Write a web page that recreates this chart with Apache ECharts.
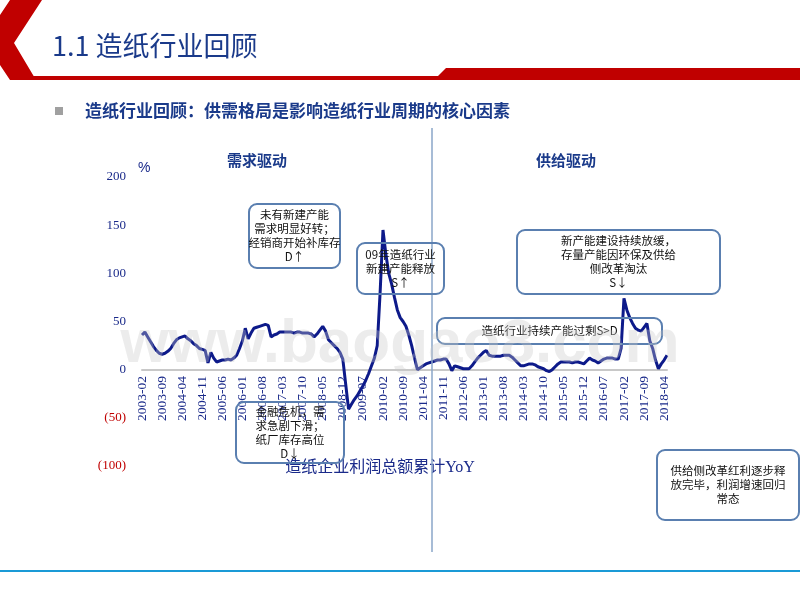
<!DOCTYPE html>
<html><head><meta charset="utf-8">
<script src="https://cdn.jsdelivr.net/npm/echarts@6/dist/echarts.min.js"></script>
<style>html,body{margin:0;padding:0;background:#fff}#c{width:800px;height:600px}</style>
</head><body><div id="c"></div>
<script>
const startYear = 2003, startMonth = 2, monthCount = 184;
const yoyValues = [
36,39,34,29,24,20,17,16,17,19,22,27,
31,33,34,35,32,30,27,25,22,21,20,7,
18,12,8,9,10,10,11,10,12,15,22,30,
43,32,38,43,44,45,46,47,46,34,36,37,
39,39,39,39,39,38,39,39,38,38,38,37,
34,37,41,45,40,31,28,25,22,18,11,-15,
-41,-36,-31,-27,-22,-17,-11,-4,4,12,25,80,
145,120,100,89,75,62,54,50,45,36,25,12,
0,2,4,6,7,8,9,10,10,11,11,6,
-1,4,3,2,1,1,1,4,8,12,15,18,
20,15,14,14,14,14,15,15,15,13,10,7,
4,4,5,6,6,5,3,2,1,-1,-2,0,
3,6,8,8,8,8,7,8,8,7,6,9,
12,10,9,7,9,11,12,12,12,11,11,22,
74,62,54,48,43,41,40,44,48,30,22,10,
1,6,10,15];
const months = [];
for (let i = 0; i < monthCount; i++) {
  const m = startMonth - 1 + i;
  months.push((startYear + Math.floor(m / 12)) + '-' + String(m % 12 + 1).padStart(2, '0'));
}
const yTicks = [-100, -50, 0, 50, 100, 150, 200];

const navy = '#0d1a8a', boxC = '#5a7fb0';
function box(x, y, w, h, lines, fs) {
  fs = fs || 11.5;
  return [{type:'rect', shape:{x, y, width:w, height:h, r:8}, style:{fill:'transparent', stroke:boxC, lineWidth:2}, z:10},
    {type:'text', x:x+w/2, y:y+h/2, style:{text:lines.join('\n'), fill:'#111', font:fs+'px "Noto Sans CJK SC"', align:'center', verticalAlign:'middle', lineHeight:fs+2.5}, z:11}];
}
const chart = echarts.init(document.getElementById('c'));
chart.setOption({
  animation:false,
  grid:{left:142, right:133, top:177, height:289},
  xAxis:{type:'category', data:months, boundaryGap:false, offset:-96,
    axisLine:{onZero:false, lineStyle:{color:'#c8c8c8', width:2}}, axisTick:{show:false},
    axisLabel:{interval:6, rotate:90, color:'#1a2a8a', fontFamily:'Liberation Serif', fontSize:13.5, margin:6}},
  yAxis:{type:'value', min:-100, max:200, interval:50, splitLine:{show:false},
    axisLine:{show:false}, axisTick:{show:false},
    axisLabel:{margin:16, fontFamily:'Liberation Serif', fontSize:13,
      formatter:v => v < 0 ? '{r|(' + (-v) + ')}' : '{b|' + v + '}',
      rich:{r:{color:'#c00000', fontFamily:'Liberation Serif', fontSize:13}, b:{color:'#1a2a8a', fontFamily:'Liberation Serif', fontSize:13}}}},
  series:[{type:'line', data:yoyValues, symbol:'none', lineStyle:{color:navy, width:3}}],
  graphic:[
    {type:'polygon', shape:{points:[[0,15],[10,0],[42,0],[14,43],[36,80],[10,80],[0,65]]}, style:{fill:'#c00000'}},
    {type:'rect', shape:{x:30, y:76, width:420, height:4}, style:{fill:'#c00000'}},
    {type:'polygon', shape:{points:[[434,80],[446,68],[800,68],[800,80]]}, style:{fill:'#c00000'}},
    {type:'text', x:52, y:46, style:{text:'1.1 造纸行业回顾', fill:'#1a3a8a', font:'27px "Noto Sans CJK SC"', verticalAlign:'middle'}},
    {type:'rect', shape:{x:55, y:107, width:8, height:8}, style:{fill:'#a0a0a0'}},
    {type:'text', x:85, y:111, style:{text:'造纸行业回顾：供需格局是影响造纸行业周期的核心因素', fill:'#1a3a8a', font:'bold 17px "Noto Sans CJK SC"', verticalAlign:'middle'}},
    {type:'text', x:257, y:160, style:{text:'需求驱动', fill:'#1a3a8a', font:'bold 15px "Noto Sans CJK SC"', align:'center', verticalAlign:'middle'}},
    {type:'text', x:566, y:160, style:{text:'供给驱动', fill:'#1a3a8a', font:'bold 15px "Noto Sans CJK SC"', align:'center', verticalAlign:'middle'}},
    {type:'text', x:138, y:168, style:{text:'%', fill:'#1a2a8a', font:'14px "Liberation Sans"', verticalAlign:'middle'}},
    {type:'line', shape:{x1:432, y1:128, x2:432, y2:552}, style:{stroke:'#8aa6c8', lineWidth:1.5}, z:5},
    {type:'text', x:380, y:468, style:{text:'造纸企业利润总额累计YoY', fill:'#1a2a8a', font:'16px "Liberation Serif", "Noto Sans CJK SC"', align:'center', verticalAlign:'middle'}},
    {type:'text', x:400, y:345, style:{text:'www.baogao8.com', fill:'rgba(200,200,200,0.35)', font:'bold 62px "Liberation Sans"', align:'center', verticalAlign:'middle'}, z:20},
    {type:'rect', shape:{x:0, y:570, width:800, height:2}, style:{fill:'#1a9ad6'}},
    ...box(249, 204, 91, 64, ['未有新建产能','需求明显好转；','经销商开始补库存','D↑']),
    ...box(357, 243, 87, 51, ['09年造纸行业','新建产能释放','S↑']),
    ...box(517, 230, 203, 64, ['新产能建设持续放缓，','存量产能因环保及供给','侧改革淘汰','S↓']),
    ...box(437, 318, 225, 26, ['造纸行业持续产能过剩S>D']),
    ...box(236, 402, 108, 61, ['金融危机，需','求急剧下滑；','纸厂库存高位','D↓']),
    ...box(657, 450, 142, 70, ['供给侧改革红利逐步释','放完毕，利润增速回归','常态'])
  ]
});
</script></body></html>
